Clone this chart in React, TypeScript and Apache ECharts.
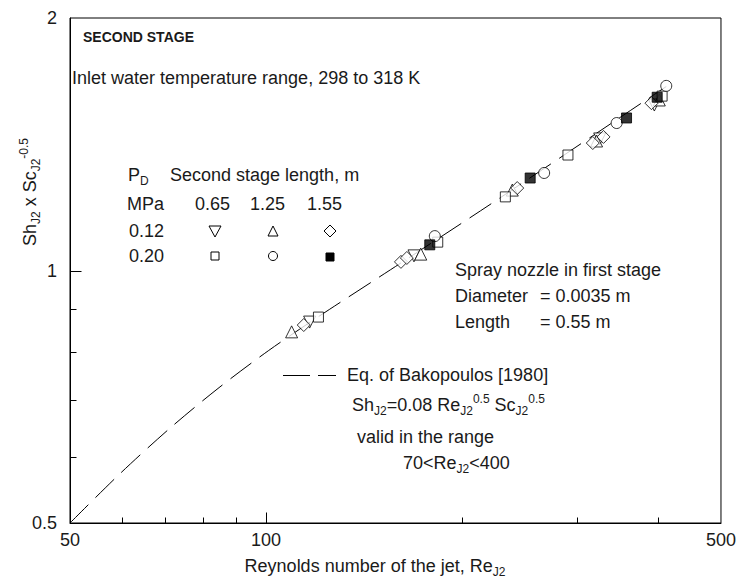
import React, { useEffect, useRef } from "react";
import * as echarts from "echarts";

const FONT = "Liberation Sans, Arial, sans-serif";
const INK = "#1a1a1a";
const FS = 18;

const X_MIN = 50;
const X_MAX = 500;
const Y_MIN = 0.5;
const Y_MAX = 2;
const X_LABELS = [50, 100, 500];
const X_MINOR_TICKS = [60, 70, 80, 90, 200, 300, 400];
const X_MAJOR_TICKS = [100];
const Y_LABELS = [0.5, 1, 2];
const Y_MINOR_TICKS = [0.6, 0.7, 0.8, 0.9];
const Y_MAJOR_TICKS = [1];

// P_D = 0.12 MPa
const down065 = [[116.7, 0.868], [168.8, 1.041], [325.6, 1.435], [395, 1.575]];
const up125 = [[109.5, 0.845], [172.9, 1.046], [239, 1.247], [322, 1.427], [402, 1.597]];
const dia155 = [[114.3, 0.861], [161.2, 1.024], [164.6, 1.035], [243.2, 1.254], [317.7, 1.419], [330, 1.443], [391, 1.583]];
// P_D = 0.20 MPa
const sq065 = [[120.4, 0.88], [183.6, 1.081], [233.2, 1.224], [291, 1.373], [406, 1.614]];
const circ125 = [[181.7, 1.099], [267.5, 1.307], [345.7, 1.499], [412, 1.66]];
const fill155 = [[178.5, 1.073], [254.6, 1.289], [358, 1.52], [399, 1.609]];

// Eq. of Bakopoulos [1980]
const bakRe = [50, 59.6, 71.1, 84.7, 101, 120.4, 161.2, 229, 388.3, 412];
const bakVal = [0.5, 0.572, 0.648, 0.725, 0.803, 0.881, 1.021, 1.221, 1.607, 1.657];

const rich = {
  n: { fontSize: FS, lineHeight: 24, fontFamily: FONT, color: INK },
  sub: { fontSize: 12, lineHeight: 12, verticalAlign: "bottom", fontFamily: FONT, color: INK },
  sup: { fontSize: 12, lineHeight: 12, verticalAlign: "top", fontFamily: FONT, color: INK },
};

function txt(x: number, y: number, text: string, extra: any = {}) {
  return {
    type: "text",
    x,
    y,
    silent: true,
    style: {
      text,
      rich,
      fill: INK,
      fontSize: FS,
      fontFamily: FONT,
      align: "left",
      verticalAlign: "middle",
      textAlign: "left",
      textVerticalAlign: "middle",
      ...extra,
    },
  };
}

const hollow = { color: "#fff", borderColor: "#000", borderWidth: 1 };
const keyStyle = { fill: "#fff", stroke: "#000", lineWidth: 1 };

const baseGraphic: any[] = [
  txt(83, 37, "SECOND STAGE", { fontWeight: "bold", fontSize: 14, rich: undefined }),
  txt(72, 78, "{n|Inlet water temperature range, 298 to 318 K}"),
  txt(128, 175, "{n|P}{sub|D}"),
  txt(170, 175, "{n|Second stage length, m}"),
  txt(127, 204, "{n|MPa}"),
  txt(195, 204, "{n|0.65}"),
  txt(250, 204, "{n|1.25}"),
  txt(307, 204, "{n|1.55}"),
  txt(129, 231, "{n|0.12}"),
  txt(129, 256, "{n|0.20}"),
  { type: "polygon", silent: true, shape: { points: [[209, 226], [221, 226], [215, 237]] }, style: keyStyle },
  { type: "polygon", silent: true, shape: { points: [[268, 236], [278, 236], [273, 226]] }, style: keyStyle },
  { type: "polygon", silent: true, shape: { points: [[330, 225], [336, 231], [330, 237], [324, 231]] }, style: keyStyle },
  { type: "rect", silent: true, shape: { x: 211, y: 252, width: 8, height: 8 }, style: keyStyle },
  { type: "circle", silent: true, shape: { cx: 273, cy: 256, r: 4.5 }, style: keyStyle },
  { type: "rect", silent: true, shape: { x: 326, y: 253, width: 8, height: 8 }, style: { fill: "#000", stroke: "#000", lineWidth: 1 } },
  txt(455, 270, "{n|Spray nozzle in first stage}"),
  txt(455, 296, "{n|Diameter}"),
  txt(540, 296, "{n|= 0.0035 m}"),
  txt(455, 322, "{n|Length}"),
  txt(540, 322, "{n|= 0.55 m}"),
  { type: "line", silent: true, shape: { x1: 283, y1: 375.5, x2: 336, y2: 375.5 }, style: { stroke: "#000", lineWidth: 1, lineDash: [27, 8] } },
  txt(347, 375, "{n|Eq. of Bakopoulos [1980]}"),
  txt(352, 405, "{n|Sh}{sub|J2}{n|=0.08 Re}{sub|J2}{sup|0.5}{n| Sc}{sub|J2}{sup|0.5}"),
  txt(357, 437, "{n|valid in the range}"),
  txt(403, 463, "{n|70<Re}{sub|J2}{n|<400}"),
  txt(375, 566, "{n|Reynolds number of the jet, Re}{sub|J2}", { align: "center", textAlign: "center" }),
  {
    ...txt(30, 192, "{n|Sh}{sub|J2}{n| x Sc}{sub|J2}{sup|-0.5}", { align: "center", textAlign: "center" }),
    rotation: Math.PI / 2,
  },
];

export default function App() {
  const ref = useRef<HTMLDivElement>(null);
  useEffect(() => {
    const chart = echarts.init(ref.current!, undefined, { renderer: "svg" });
    const scatter = (name: string, data: number[][], symbol: string, size: number, style: any, rotate = 0) => ({
      name,
      type: "scatter",
      data,
      symbol,
      symbolSize: size,
      symbolRotate: rotate,
      itemStyle: style,
      z: 3,
    });
    chart.setOption({
      animation: false,
      backgroundColor: "#fff",
      grid: { left: 70, right: 14, top: 18, bottom: 60, show: true, borderColor: "#000", borderWidth: 1 },
      xAxis: {
        type: "log",
        logBase: 10,
        min: X_MIN,
        max: X_MAX,
        axisLine: { show: true, lineStyle: { color: "#000", width: 1 } },
        splitLine: { show: false },
        minorTick: { show: false },
        axisTick: { show: false },
        axisLabel: { customValues: X_LABELS, fontSize: FS, fontFamily: FONT, color: INK, margin: 8 },
      },
      yAxis: {
        type: "log",
        logBase: 10,
        min: Y_MIN,
        max: Y_MAX,
        axisLine: { show: true, lineStyle: { color: "#000", width: 1 } },
        splitLine: { show: false },
        minorTick: { show: false },
        axisTick: { show: false },
        axisLabel: { customValues: Y_LABELS, fontSize: FS, fontFamily: FONT, color: INK, margin: 13 },
      },
      series: [
        {
          name: "Bakopoulos",
          type: "line",
          data: bakRe.map((r, i) => [r, bakVal[i]]),
          symbol: "none",
          smooth: 0.3,
          lineStyle: { color: "#000", width: 1, type: [26, 10] },
          z: 2,
        },
        scatter("0.65 / 0.12", down065, "triangle", 12, hollow, 180),
        scatter("1.25 / 0.12", up125, "triangle", 12, hollow),
        scatter("1.55 / 0.12", dia155, "diamond", 13, hollow),
        scatter("0.65 / 0.20", sq065, "rect", 10, hollow),
        scatter("1.25 / 0.20", circ125, "circle", 11, hollow),
        scatter("1.55 / 0.20", fill155, "rect", 10, { color: "#000", borderColor: "#000", borderWidth: 1 }),
      ],
      graphic: { elements: baseGraphic },
    });

    // axis ticks placed with the chart's own log scales
    const ticks: any[] = [];
    const addTick = (xv: number, yv: number, horizontal: boolean, len: number) => {
      const p = chart.convertToPixel({ gridIndex: 0 }, [xv, yv]) as number[];
      if (!p || isNaN(p[0]) || isNaN(p[1])) return;
      const x = Math.round(p[0]) + 0.5;
      const y = Math.round(p[1]) + 0.5;
      ticks.push({
        type: "line",
        silent: true,
        z: 100,
        shape: horizontal ? { x1: x, y1: y, x2: x + len, y2: y } : { x1: x, y1: y, x2: x, y2: y - len },
        style: { stroke: "#000", lineWidth: 1 },
      });
    };
    X_MINOR_TICKS.forEach((v) => addTick(v, Y_MIN, false, 6));
    X_MAJOR_TICKS.forEach((v) => addTick(v, Y_MIN, false, 11));
    Y_MINOR_TICKS.forEach((v) => addTick(X_MIN, v, true, 6));
    Y_MAJOR_TICKS.forEach((v) => addTick(X_MIN, v, true, 11));
    chart.setOption({ graphic: { elements: [...baseGraphic, ...ticks] } });

    return () => chart.dispose();
  }, []);
  return <div ref={ref} style={{ position: "absolute", left: 0, top: 0, width: 739, height: 583 }} />;
}
